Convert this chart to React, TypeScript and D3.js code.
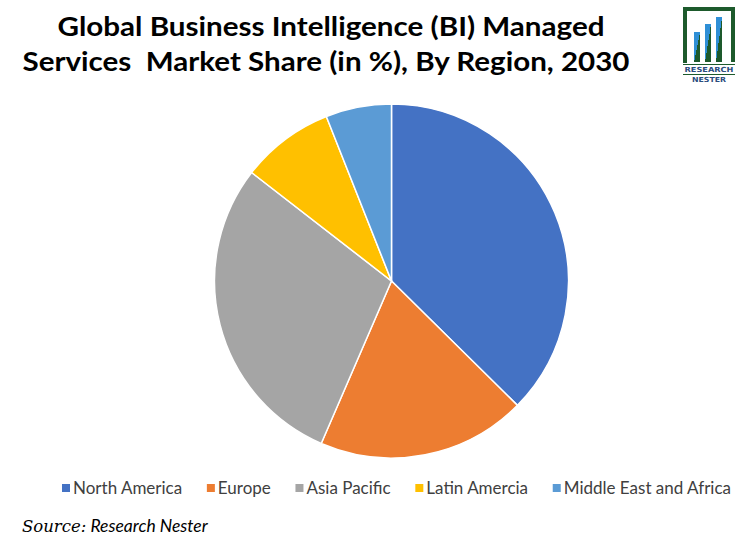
import React, { useEffect, useRef } from "react";
import * as d3 from "d3";

const regions = ["North America", "Europe", "Asia Pacific", "Latin Amercia", "Middle East and Africa"];
const shares = [37.4, 19.1, 29.0, 8.5, 6.0];
const colors = ["#4472C4", "#ED7D31", "#A5A5A5", "#FFC000", "#5B9BD5"];
const titleLines = ["Global Business Intelligence (BI) Managed", "Services  Market Share (in %), By Region, 2030"];

const W = 747, H = 541;

export default function App() {
  const ref = useRef<SVGSVGElement>(null);
  useEffect(() => {
    const svg = d3.select(ref.current);
    svg.selectAll("*").remove();
    svg.append("rect").attr("width", W).attr("height", H).attr("fill", "#fff");

    // Title
    const tl = [
      { y: 36, x: 331, w: 547 },
      { y: 71, x: 326, w: 607 },
    ];
    titleLines.forEach((t, i) => {
      svg.append("text")
        .attr("x", tl[i].x).attr("y", tl[i].y)
        .attr("text-anchor", "middle")
        .attr("font-family", "Lato, 'Open Sans', sans-serif")
        .attr("font-weight", "bold").attr("font-size", 27.5)
        .attr("fill", "#000")
        .style("white-space", "pre")
        .attr("textLength", tl[i].w).attr("lengthAdjust", "spacingAndGlyphs")
        .text(t);
    });

    // Pie
    const cx = 391.5, cy = 281, r = 177;
    const pie = d3.pie<number>().sort(null).value((d) => d);
    const arc = d3.arc<d3.PieArcDatum<number>>().innerRadius(0).outerRadius(r);
    const g = svg.append("g").attr("transform", `translate(${cx},${cy})`);
    g.selectAll("path").data(pie(shares)).enter().append("path")
      .attr("d", arc as any)
      .attr("fill", (_, i) => colors[i])
      .attr("stroke", "#fff").attr("stroke-width", 1.5);

    // Legend
    const lg = svg.append("g");
    const items = regions.map((name, i) => {
      const it = lg.append("g");
      it.append("rect").attr("width", 8).attr("height", 8).attr("y", -10).attr("fill", colors[i]);
      const tx = it.append("text").attr("x", 11).attr("y", 0)
        .attr("font-family", "Lato, 'Open Sans', sans-serif").attr("font-size", 17).attr("fill", "#404040")
        .text(name);
      const w = (tx.node() as SVGTextElement).getComputedTextLength();
      return { it, w: 11 + w };
    });
    const left = 62, right = 731;
    const gap = (right - left - d3.sum(items, (d) => d.w)) / (items.length - 1);
    let x = left;
    items.forEach((d) => {
      d.it.attr("transform", `translate(${x},494)`);
      x += d.w + gap;
    });

    // Source
    const src = svg.append("text").attr("x", 22).attr("y", 532).attr("font-size", 17.5).attr("font-style", "italic").attr("fill", "#000");
    src.append("tspan").attr("font-family", "'DejaVu Serif', 'Liberation Serif', serif").attr("font-size", 16.5).text("Source:");
    src.append("tspan").attr("font-family", "Lato, 'Open Sans', sans-serif").text(" Research Nester");

    // Logo
    const logo = svg.append("g");
    const green = "#1d5a2c", blue = "#2f8fd6";
    logo.append("path")
      .attr("d", "M683,63 V7 H735 V62 H731 V11 H687 V63 Z")
      .attr("fill", green);
    const bars = [
      { x: 694, top: 32 },
      { x: 705, top: 24 },
      { x: 716, top: 17 },
    ];
    const defs = svg.append("defs");
    bars.forEach((b, i) => {
      const id = `lg${i}`;
      const grad = defs.append("linearGradient").attr("id", id).attr("x1", 0).attr("y1", 0).attr("x2", 1).attr("y2", 1);
      grad.append("stop").attr("offset", "50%").attr("stop-color", blue);
      grad.append("stop").attr("offset", "50%").attr("stop-color", green);
      logo.append("rect").attr("x", b.x).attr("y", b.top).attr("width", 6).attr("height", 62 - b.top).attr("fill", `url(#${id})`);
    });
    logo.append("rect").attr("x", 683).attr("y", 64).attr("width", 52).attr("height", 1).attr("fill", green);
    logo.append("text").attr("x", 709).attr("y", 72).attr("text-anchor", "middle")
      .attr("font-family", "'DejaVu Sans', sans-serif").attr("font-weight", "bold").attr("font-size", 7)
      .attr("fill", "#2b4c7e").attr("textLength", 49).attr("lengthAdjust", "spacingAndGlyphs").text("RESEARCH");
    logo.append("rect").attr("x", 683).attr("y", 74).attr("width", 52).attr("height", 1).attr("fill", green);
    logo.append("text").attr("x", 709).attr("y", 82).attr("text-anchor", "middle")
      .attr("font-family", "'DejaVu Sans', sans-serif").attr("font-weight", "bold").attr("font-size", 7)
      .attr("fill", "#2b4c7e").attr("textLength", 34).attr("lengthAdjust", "spacingAndGlyphs").text("NESTER");
  }, []);
  return <svg ref={ref} width={W} height={H} style={{ display: "block", position: "absolute", left: 0, top: 0 }} />;
}
